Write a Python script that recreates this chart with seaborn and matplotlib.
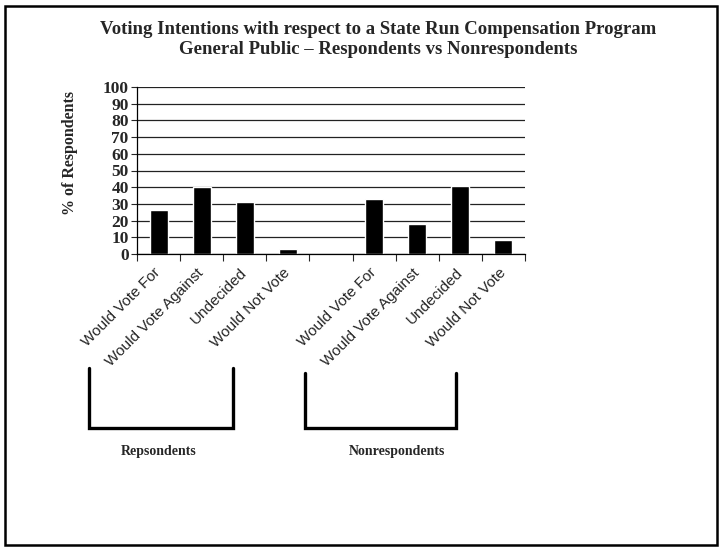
import numpy as np
import pandas as pd
import seaborn as sns
import matplotlib.pyplot as plt
from matplotlib.lines import Line2D
from matplotlib.patches import Rectangle

# data
groups = ["Respondents"] * 4 + ["Nonrespondents"] * 4
responses = ["Would Vote For", "Would Vote Against", "Undecided", "Would Not Vote"] * 2
percent = [26.5, 40, 31, 3, 33, 18, 41, 8.5]
y_ticks = list(range(0, 101, 10))

df = pd.DataFrame({"group": groups, "response": responses, "percent": percent})
df["key"] = df["group"] + "|" + df["response"]
order = list(df["key"][:4]) + ["gap"] + list(df["key"][4:])
tick_labels = [k.split("|")[1] if k != "gap" else "" for k in order]

sns.set_style("white")
plt.rcParams["font.family"] = ["Liberation Serif", "DejaVu Serif"]

W, H = 723, 550
fig = plt.figure(figsize=(W / 100, H / 100), dpi=100)
ax = fig.add_axes([137 / W, 1 - 254 / H, (525 - 137) / W, (254 - 87) / H])

sns.barplot(data=df, x="key", y="percent", order=order, color="black",
            saturation=1, width=0.42, ax=ax, errorbar=None)

ax.set_xlim(-0.5, len(order) - 0.5)
ax.set_ylim(0, 100)
ax.set_yticks(y_ticks)
ax.set_yticklabels([str(v) for v in y_ticks], fontsize=12.5, fontweight="bold")
ax.yaxis.grid(True, color="#222222", linewidth=0.9)
ax.set_axisbelow(True)
ax.tick_params(axis="y", direction="out", length=4, width=0.8, pad=2, left=True)

ax.set_xticks(range(len(order)))
ax.set_xticklabels(tick_labels, rotation=45, ha="right", va="center",
                   rotation_mode="anchor", fontsize=11,
                   family=["Liberation Sans", "DejaVu Sans"])
ax.tick_params(axis="x", length=0, pad=12)
ax.set_xticks(np.arange(-0.5, len(order)), minor=True)
ax.tick_params(axis="x", which="minor", direction="out", length=5, width=0.8, bottom=True)

for s in ["top", "right"]:
    ax.spines[s].set_visible(False)
for s in ["left", "bottom"]:
    ax.spines[s].set_color("black")
    ax.spines[s].set_linewidth(0.9)

ax.set_xlabel("")
ax.set_ylabel("")
fig.text(70 / W, 1 - 153 / H, "% of Respondents", rotation=90, ha="center",
         va="center", fontsize=11.5, fontweight="bold")

fig.text(378 / W, 1 - 30 / H, "Voting Intentions with respect to a State Run Compensation Program",
         ha="center", va="center", fontsize=13.5, fontweight="bold")
fig.text(378 / W, 1 - 50 / H, "General Public \u2013 Respondents vs Nonrespondents",
         ha="center", va="center", fontsize=13.5, fontweight="bold")


def px(x, y):
    return x / W, 1 - y / H


# group brackets
for x0, x1, ytop, label, lx in [(89, 233, 368, "Repsondents", 159),
                                (305, 456, 373, "Nonrespondents", 397)]:
    xs, ys = zip(px(x0, ytop), px(x0, 428), px(x1, 428), px(x1, ytop))
    fig.add_artist(Line2D(xs, ys, transform=fig.transFigure, color="black",
                          linewidth=2.4, solid_joinstyle="miter"))
    fig.text(*px(lx, 452), label, ha="center", va="center", fontsize=10,
             fontweight="bold")

# outer frame
fig.add_artist(Rectangle(px(5, 545), (717 - 5) / W, (545 - 6) / H,
                         transform=fig.transFigure, fill=False,
                         edgecolor="black", linewidth=1.8))

fig.savefig("out.png", dpi=100)
